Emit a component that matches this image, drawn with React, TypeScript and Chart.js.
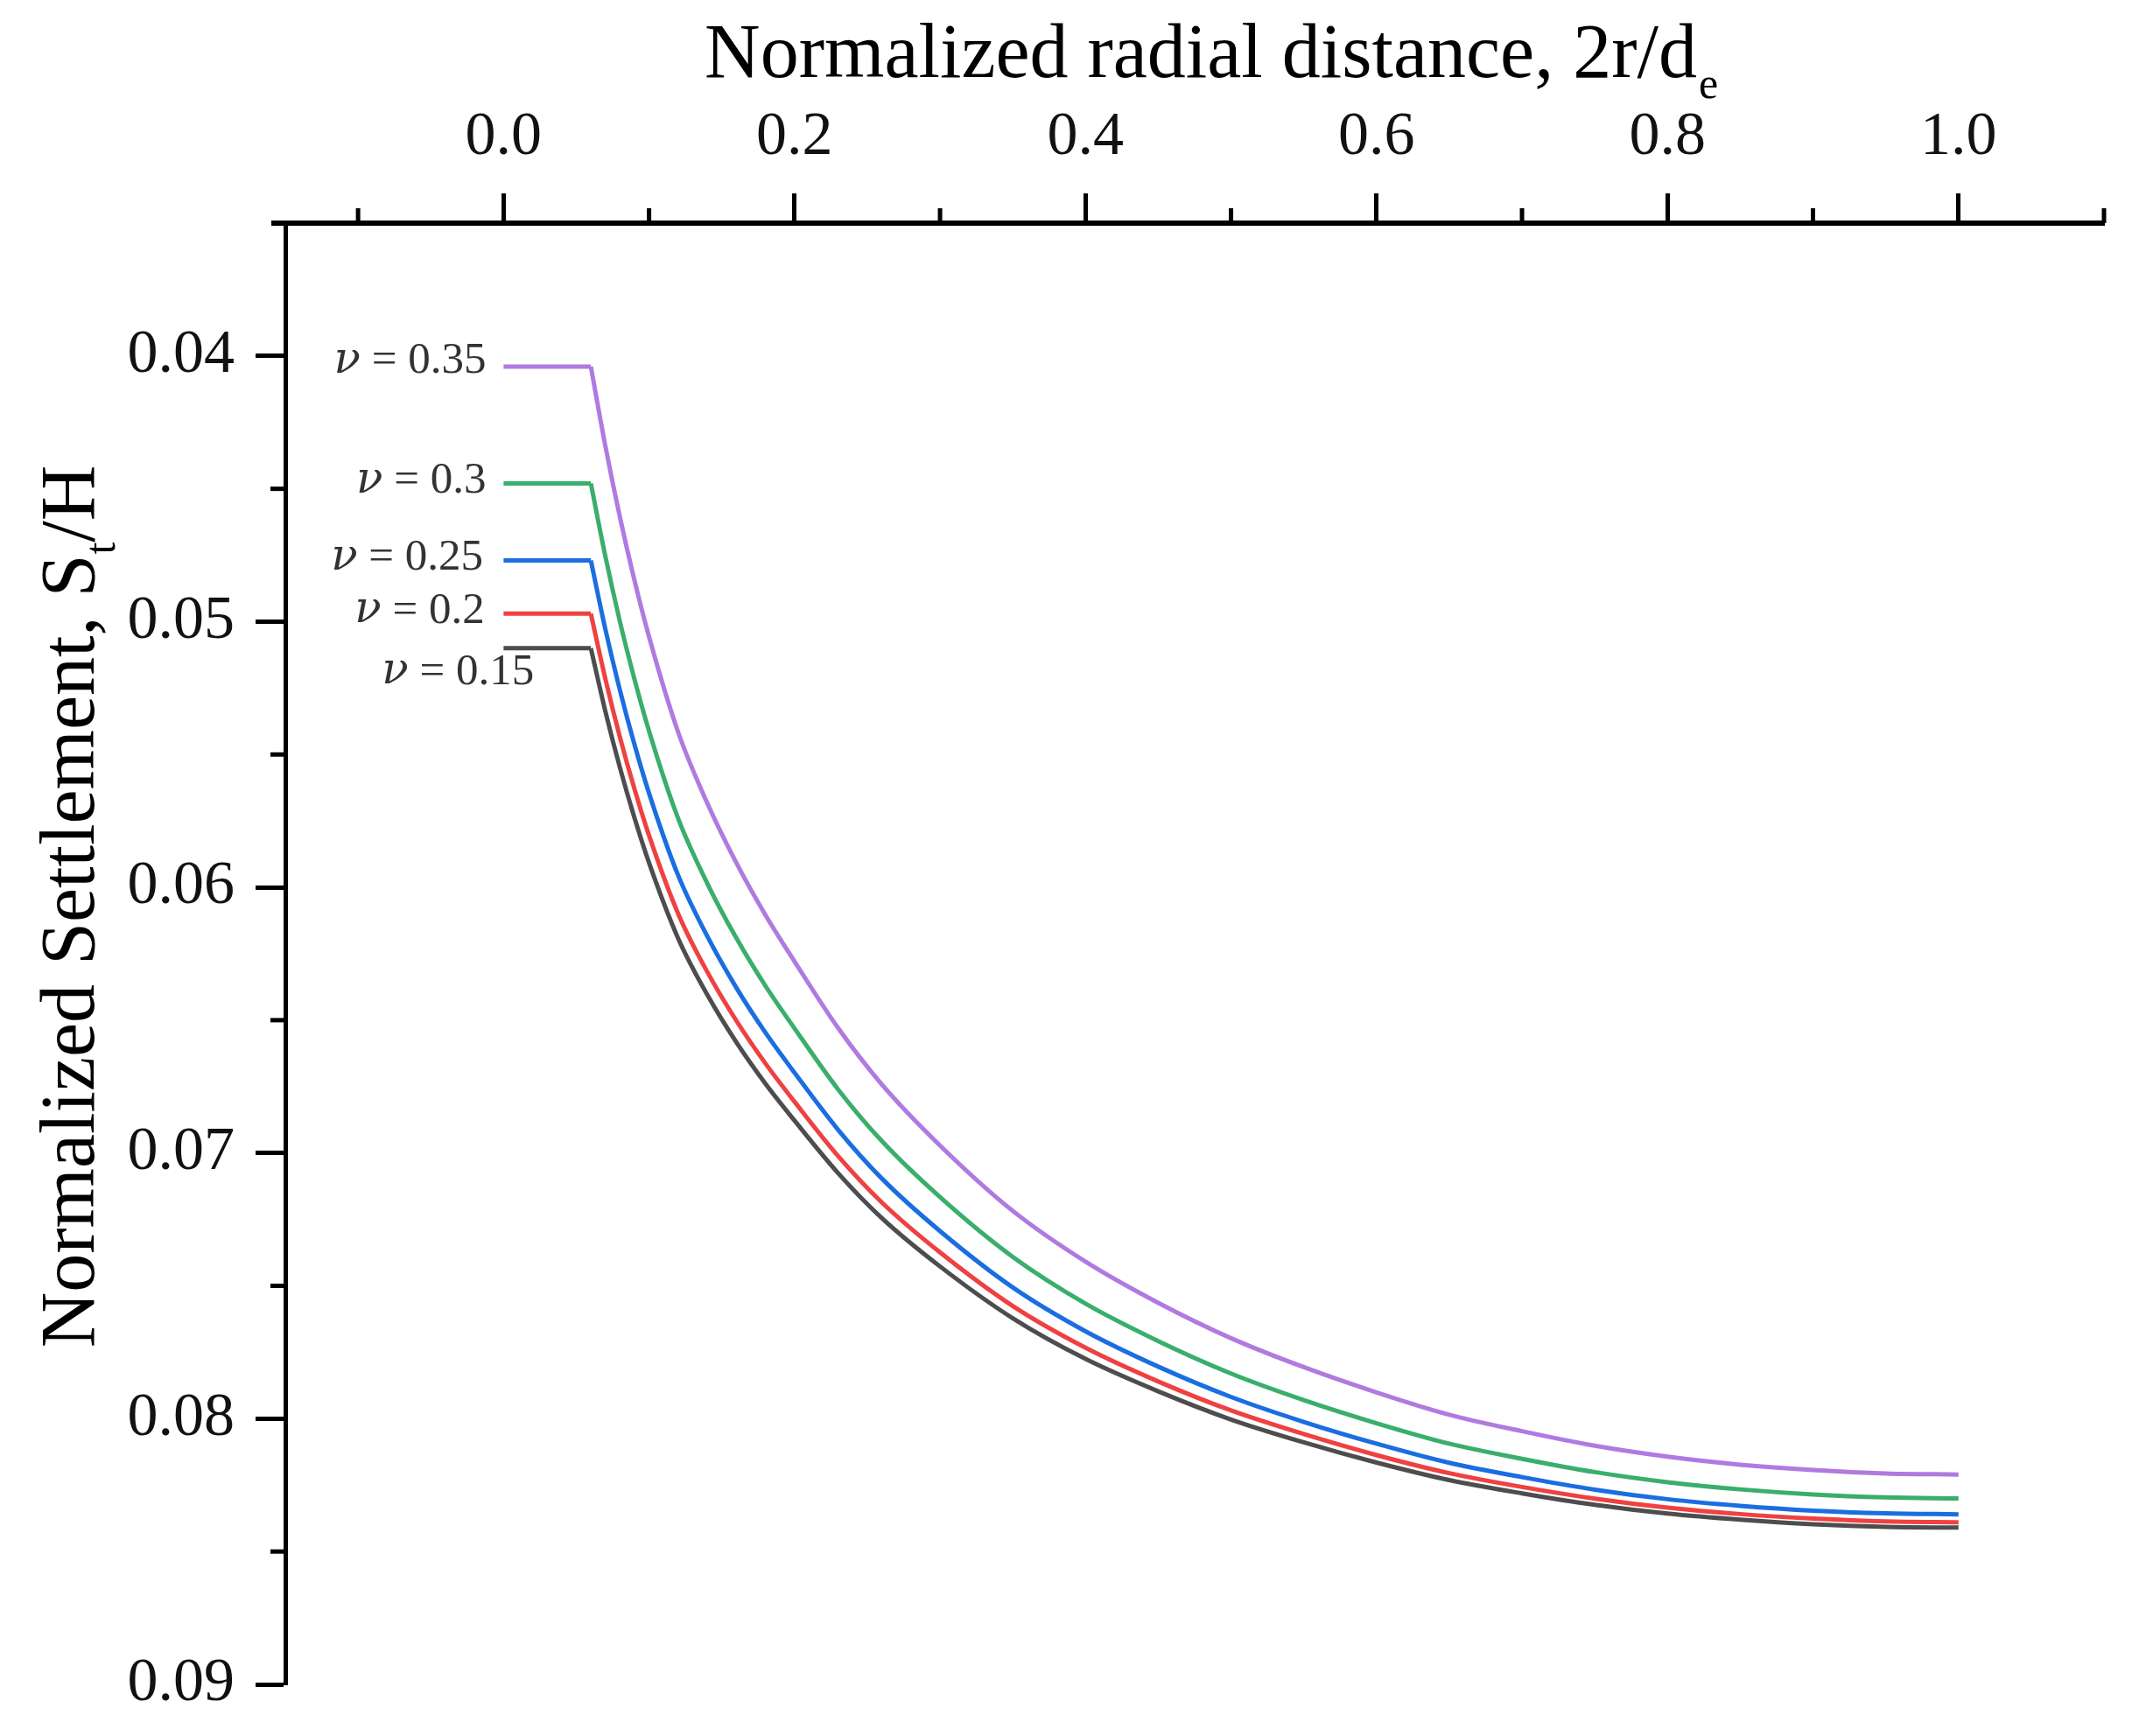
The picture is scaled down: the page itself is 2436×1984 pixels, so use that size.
import React, { useEffect, useRef } from 'react';
import { Chart, registerables } from 'chart.js';

Chart.register(...registerables);

// Poisson's ratio of each curve, and its colour
const nuLabels = ['0.35', '0.3', '0.25', '0.2', '0.15'];
const nuColors = ['#b07ae0', '#3aae6b', '#1a6ee0', '#ef4141', '#4d4d4d'];

// radial distance 2r/de (shared by all curves); the curves are flat up to 0.06
const xGrid = [0, 0.06, 0.07, 0.08, 0.09, 0.1, 0.12, 0.14, 0.16, 0.18, 0.2, 0.23, 0.26, 0.3, 0.35, 0.4, 0.45, 0.5, 0.55, 0.6, 0.65, 0.7, 0.75, 0.8, 0.85, 0.9, 0.95, 1.0];

// settlement St/H
const yNu035 = [0.0404, 0.0404, 0.0434, 0.04607, 0.04845, 0.05057, 0.05416, 0.05683, 0.05908, 0.06104, 0.06279, 0.0653, 0.06742, 0.06972, 0.07218, 0.07409, 0.07564, 0.07697, 0.07806, 0.07901, 0.07985, 0.08047, 0.08102, 0.08143, 0.08173, 0.08193, 0.08206, 0.0821];
const yNu030 = [0.0448, 0.0448, 0.04755, 0.05, 0.05217, 0.05412, 0.05741, 0.05985, 0.06191, 0.06371, 0.06531, 0.06761, 0.06955, 0.07166, 0.07391, 0.07567, 0.07708, 0.0783, 0.0793, 0.08017, 0.08094, 0.08151, 0.08201, 0.08239, 0.08266, 0.08285, 0.08296, 0.083];
const yNu025 = [0.0477, 0.0477, 0.05029, 0.05258, 0.05463, 0.05646, 0.05955, 0.06184, 0.06378, 0.06547, 0.06698, 0.06913, 0.07096, 0.07294, 0.07506, 0.07671, 0.07804, 0.07918, 0.08012, 0.08094, 0.08166, 0.0822, 0.08267, 0.08303, 0.08328, 0.08346, 0.08356, 0.0836];
const yNu020 = [0.0497, 0.0497, 0.05216, 0.05435, 0.0563, 0.05805, 0.06099, 0.06318, 0.06502, 0.06663, 0.06807, 0.07012, 0.07186, 0.07374, 0.07576, 0.07733, 0.0786, 0.07969, 0.08058, 0.08137, 0.08205, 0.08257, 0.08301, 0.08335, 0.08359, 0.08376, 0.08387, 0.0839];
const yNu015 = [0.051, 0.051, 0.05338, 0.0555, 0.05739, 0.05908, 0.06192, 0.06404, 0.06583, 0.06739, 0.06878, 0.07076, 0.07245, 0.07427, 0.07622, 0.07775, 0.07897, 0.08003, 0.08089, 0.08165, 0.08231, 0.08281, 0.08324, 0.08357, 0.0838, 0.08397, 0.08407, 0.0841];

const seriesY = [yNu035, yNu030, yNu025, yNu020, yNu015];

// ticks
const xTicks = [0, 0.2, 0.4, 0.6, 0.8, 1.0];
const xMinorTicks = [-0.1, 0.1, 0.3, 0.5, 0.7, 0.9, 1.1];
const yTicks = [0.04, 0.05, 0.06, 0.07, 0.08, 0.09];
const yMinorTicks = [0.045, 0.055, 0.065, 0.075, 0.085];

// where each "ν = ..." label sits (right end, middle), in axis units
const labelAtX = [-0.012, -0.012, -0.014, -0.013, 0.021];
const labelAtY = [0.0402, 0.0447, 0.0476, 0.0496, 0.0519];

const SERIF = '"Liberation Serif", "Times New Roman", serif';
const W = 2436;
const H = 1984;

// draws minor ticks, the axis titles with subscripts and the ν labels
const decorPlugin = {
  id: 'decor',
  afterDraw(chart: any) {
    const { ctx, chartArea } = chart;
    const xs = chart.scales.x;
    const ys = chart.scales.y;
    ctx.save();

    // minor ticks
    ctx.strokeStyle = '#000';
    ctx.lineWidth = 5;
    xMinorTicks.forEach((v) => {
      const px = xs.getPixelForValue(v);
      ctx.beginPath();
      ctx.moveTo(px, chartArea.top);
      ctx.lineTo(px, chartArea.top - 17);
      ctx.stroke();
    });
    yMinorTicks.forEach((v) => {
      const py = ys.getPixelForValue(v);
      ctx.beginPath();
      ctx.moveTo(chartArea.left, py);
      ctx.lineTo(chartArea.left - 17, py);
      ctx.stroke();
    });

    // top axis runs a little past the left axis
    ctx.lineWidth = 6;
    ctx.beginPath();
    ctx.moveTo(chartArea.left - 16, chartArea.top);
    ctx.lineTo(chartArea.left, chartArea.top);
    ctx.stroke();

    ctx.fillStyle = '#000';
    ctx.textBaseline = 'alphabetic';

    // x title
    const xMain = 'Normalized radial distance, 2r/d';
    ctx.font = `88px ${SERIF}`;
    const xw = ctx.measureText(xMain).width;
    const xStart = (chartArea.left + chartArea.right) / 2 + 7 - xw / 2;
    const xBase = chartArea.top - 167;
    ctx.textAlign = 'left';
    ctx.fillText(xMain, xStart, xBase);
    ctx.font = `50px ${SERIF}`;
    ctx.fillText('e', xStart + xw + 2, xBase + 24);

    // y title (rotated)
    const yA = 'Normalized Settlement, S';
    const yB = '/H';
    ctx.font = `88px ${SERIF}`;
    const wa = ctx.measureText(yA).width;
    const wb = ctx.measureText(yB).width;
    ctx.font = `50px ${SERIF}`;
    const wt = ctx.measureText('t').width;
    const total = wa + wt + wb;
    ctx.translate(chartArea.left - 219, (chartArea.top + chartArea.bottom) / 2 - 54);
    ctx.rotate(-Math.PI / 2);
    ctx.font = `88px ${SERIF}`;
    ctx.fillText(yA, -total / 2, 0);
    ctx.font = `50px ${SERIF}`;
    ctx.fillText('t', -total / 2 + wa, 24);
    ctx.font = `88px ${SERIF}`;
    ctx.fillText(yB, -total / 2 + wa + wt, 0);
    ctx.setTransform(1, 0, 0, 1, 0, 0);

    // ν labels
    ctx.fillStyle = '#333';
    ctx.textBaseline = 'middle';
    ctx.textAlign = 'right';
    nuLabels.forEach((lab, i) => {
      const px = xs.getPixelForValue(labelAtX[i]);
      const py = ys.getPixelForValue(labelAtY[i]);
      const rest = ' = ' + lab;
      ctx.font = `51px ${SERIF}`;
      const rw = ctx.measureText(rest).width;
      ctx.fillText(rest, px, py);
      ctx.font = `italic 50px "DejaVu Serif", ${SERIF}`;
      ctx.fillText('ν', px - rw, py);
    });

    ctx.restore();
  },
};

const App: React.FC = () => {
  const canvasRef = useRef<HTMLCanvasElement | null>(null);
  const chartRef = useRef<Chart | null>(null);

  useEffect(() => {
    document.body.style.margin = '0';
    if (!canvasRef.current) return;

    // each curve = a flat part (first two points) plus the decaying part,
    // so the bend at 0.06 stays sharp
    const datasets: any[] = [];
    nuLabels.forEach((lab, i) => {
      const pts = xGrid.map((x, j) => ({ x, y: seriesY[i][j] }));
      const style = {
        borderColor: nuColors[i],
        backgroundColor: nuColors[i],
        borderWidth: 5,
        pointRadius: 0,
        fill: false,
      };
      datasets.push({ label: 'ν = ' + lab, data: pts.slice(0, 2), ...style });
      datasets.push({
        label: 'ν = ' + lab + ' curve',
        data: pts.slice(1),
        cubicInterpolationMode: 'monotone',
        ...style,
      });
    });

    chartRef.current = new Chart(canvasRef.current, {
      type: 'line',
      data: { datasets },
      plugins: [decorPlugin],
      options: {
        animation: false,
        responsive: false,
        devicePixelRatio: 1,
        layout: { padding: { left: 0, top: 0, right: 32, bottom: 59 } },
        plugins: {
          legend: { display: false },
          tooltip: { enabled: false },
        },
        scales: {
          x: {
            type: 'linear',
            position: 'top',
            min: -0.15,
            max: 1.1,
            afterFit: (scale: any) => {
              scale.height = 255;
              scale.paddingLeft = 0;
              scale.paddingRight = 0;
            },
            afterBuildTicks: (scale: any) => {
              scale.ticks = xTicks.map((v) => ({ value: v }));
            },
            ticks: {
              callback: (v: any) => Number(v).toFixed(1),
              font: { family: SERIF, size: 70 },
              color: '#111',
              padding: 21,
              maxRotation: 0,
              autoSkip: false,
            },
            grid: {
              display: true,
              drawOnChartArea: false,
              drawTicks: true,
              tickLength: 34,
              tickWidth: 5,
              tickColor: '#000',
            },
            border: { display: true, color: '#000', width: 6 },
          },
          y: {
            type: 'linear',
            position: 'left',
            reverse: true,
            min: 0.035,
            max: 0.09,
            afterFit: (scale: any) => {
              scale.width = 326;
              scale.paddingTop = 0;
              scale.paddingBottom = 0;
            },
            afterBuildTicks: (scale: any) => {
              scale.ticks = yTicks.map((v) => ({ value: v }));
            },
            ticks: {
              callback: (v: any) => Number(v).toFixed(2),
              font: { family: SERIF, size: 70 },
              color: '#111',
              padding: 24,
              autoSkip: false,
            },
            grid: {
              display: true,
              drawOnChartArea: false,
              drawTicks: true,
              tickLength: 34,
              tickWidth: 5,
              tickColor: '#000',
            },
            border: { display: true, color: '#000', width: 5 },
          },
        },
      },
    });

    return () => {
      if (chartRef.current) {
        chartRef.current.destroy();
        chartRef.current = null;
      }
    };
  }, []);

  return (
    <div style={{ width: W, height: H, background: '#fff' }}>
      <canvas ref={canvasRef} width={W} height={H} style={{ display: 'block' }}></canvas>
    </div>
  );
};

export default App;
